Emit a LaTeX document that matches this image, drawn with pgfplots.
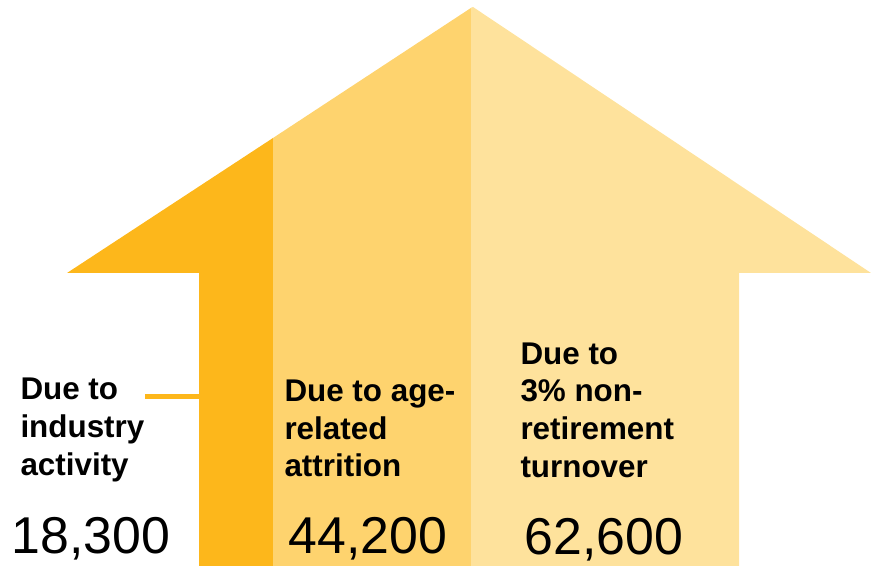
\documentclass[border=0pt]{standalone}
\usepackage{pgfplots}
\pgfplotsset{compat=1.18}
\usepackage{fontspec}
\setmainfont{Liberation Sans}
\definecolor{cdark}{RGB}{253,183,27}
\definecolor{cmid}{RGB}{254,211,110}
\definecolor{clight}{RGB}{254,226,156}
\begin{document}
\begin{tikzpicture}
\begin{axis}[
  hide axis, scale only axis,
  width=871bp, height=566bp,
  xmin=0, xmax=871, ymin=0, ymax=566,
  clip=false,
  every node/.style={inner sep=0pt, outer sep=0pt},
]
\addplot[draw=none, forget plot] coordinates {(0,0) (871,566)};
% dark band: industry activity (18,300)
\addplot[fill=cdark, draw=none] coordinates {(67,293) (273,428) (273,0) (199,0) (199,293) (67,293)};
% middle band: age-related attrition (44,200)
\addplot[fill=cmid, draw=none] coordinates {(273,0) (273,428) (471.5,558.4) (471.5,0) (273,0)};
% light band: non-retirement turnover (62,600)
\addplot[fill=clight, draw=none] coordinates {(471,0) (471,558) (473,559) (871,293) (739,293) (739,0) (471,0)};
% connector
\addplot[draw=cdark, line width=5bp] coordinates {(145,169) (200,169)};

\def\lab{\fontsize{31.5}{38}\selectfont\bfseries}
\def\num{\fontsize{52}{60}\selectfont}
\node[anchor=base west] at (axis cs:17,166) {\lab Due to};
\node[anchor=base west] at (axis cs:17,128) {\lab industry};
\node[anchor=base west] at (axis cs:17,90) {\lab activity};
\node[anchor=base west] at (axis cs:8,13) {\num 18,300};

\node[anchor=base west] at (axis cs:281,164) {\lab Due to age-};
\node[anchor=base west] at (axis cs:281,126) {\lab related};
\node[anchor=base west] at (axis cs:281,89) {\lab attrition};
\node[anchor=base west] at (axis cs:285,13) {\num 44,200};

\node[anchor=base west] at (axis cs:517,201) {\lab Due to};
\node[anchor=base west] at (axis cs:517,164) {\lab 3\% non-};
\node[anchor=base west] at (axis cs:517,126) {\lab retirement};
\node[anchor=base west] at (axis cs:517,88) {\lab turnover};
\node[anchor=base west] at (axis cs:521,12) {\num 62,600};
\end{axis}
\end{tikzpicture}
\end{document}
